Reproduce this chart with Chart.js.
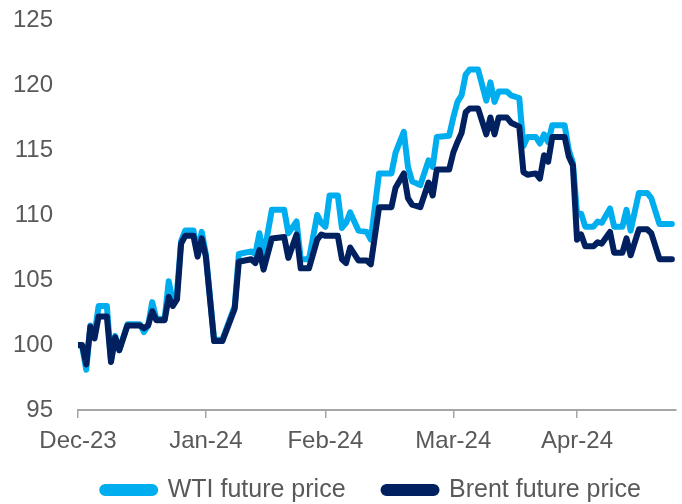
<!DOCTYPE html>
<html>
<head>
<meta charset="utf-8">
<script src="https://cdn.jsdelivr.net/npm/chart.js@4/dist/chart.umd.min.js"></script>
<style>
  html, body { margin: 0; padding: 0; background: #ffffff; }
  #wrap { width: 682px; height: 504px; position: relative; }
</style>
</head>
<body>
<div id="wrap"><canvas id="c" width="682" height="504"></canvas></div>
<script>
// Day offsets from the first tick (Dec-23)
const days = [
  0,1,2,3,4,5,7,8,9,10,
  12,15,16,17,18,19,21,22,23,24,
  25,26,28,29,30,31,33,35,38,39,
  42,43,44,45,47,50,51,53,54,56,
  58,59,60,61,63,64,65,66,68,70,
  71,73,76,77,79,80,81,83,85,86,
  87,90,91,92,93,94,95,97,98,99,
  100,101,102,104,105,107,108,109,111,112,
  113,114,115,118,119,120,121,122,123,125,
  126,127,129,130,132,133,134,136,138,139,
  141,144
];
const wti = [
  100.0,99.9,98.1,101.5,100.8,103.0,103.0,98.8,100.7,99.6,
  101.6,101.6,101.0,101.5,103.3,102.0,102.0,104.9,103.3,104.0,
  108.0,108.8,108.8,107.0,108.7,107.0,100.4,100.4,103.0,107.0,
  107.2,107.0,108.6,106.8,110.4,110.4,108.6,109.5,106.6,106.6,
  110.0,109.4,109.1,111.5,111.5,109.0,109.4,110.2,108.8,108.7,
  108.1,113.2,113.2,114.8,116.4,113.7,112.6,112.3,114.2,113.7,
  116.0,116.1,117.5,118.7,119.2,120.8,121.2,121.2,120.0,118.8,
  120.2,118.7,119.5,119.5,119.2,119.0,115.3,116.0,116.0,115.5,
  116.2,115.6,116.9,116.9,115.0,114.0,110.1,110.1,109.1,109.1,
  109.5,109.4,110.5,109.1,109.1,110.4,108.8,111.7,111.7,111.3,
  109.3,109.3
];
const brent = [
  100.0,100.0,98.5,101.4,100.5,102.2,102.2,98.7,100.6,99.6,
  101.5,101.5,101.3,101.5,102.6,101.9,101.9,103.7,103.0,103.5,
  107.8,108.4,108.4,106.8,108.2,106.8,100.3,100.3,102.8,106.4,
  106.6,106.3,107.3,105.8,108.2,108.3,106.7,108.5,105.9,105.9,
  108.1,108.5,108.4,108.4,108.4,106.6,106.3,107.5,106.5,106.5,
  106.2,110.6,110.6,112.1,113.2,111.3,110.8,110.6,112.5,111.5,
  113.5,113.5,114.8,115.6,116.3,117.9,118.2,118.2,117.2,116.2,
  117.5,116.2,117.5,117.5,117.1,116.8,113.3,113.1,113.2,112.8,
  114.6,114.1,116.0,116.0,114.5,113.8,108.1,108.5,107.6,107.6,
  107.9,107.8,108.7,107.1,107.1,108.2,106.9,108.9,108.9,108.6,
  106.6,106.6
];
const tickDays = [0, 31, 60, 91, 121];
const tickLabels = ["Dec-23", "Jan-24", "Feb-24", "Mar-24", "Apr-24"];
const seriesNames = ["WTI future price", "Brent future price"];

const FONT = "'Liberation Sans', Arial, sans-serif";
const TXT = "#595959";

const toPts = (vals) => days.map((d, i) => ({ x: d, y: vals[i] }));

// nudge the legend block to where the reference places it
const legendShift = {
  id: "legendShift",
  afterLayout(chart) {
    const lg = chart.legend;
    if (lg) {
      lg.left += 33.5; lg.right += 33.5;
      lg.top -= 25.3; lg.bottom = chart.height; lg.height = lg.bottom - lg.top;
    }
  }
};

new Chart(document.getElementById("c"), {
  type: "line",
  data: {
    datasets: [
      { label: seriesNames[0], data: toPts(wti), borderColor: "#00AEEF", backgroundColor: "#00AEEF",
        borderWidth: 6, pointRadius: 0, tension: 0, order: 2, borderJoinStyle: "round", borderCapStyle: "round" },
      { label: seriesNames[1], data: toPts(brent), borderColor: "#002060", backgroundColor: "#002060",
        borderWidth: 6, pointRadius: 0, tension: 0, order: 1, borderJoinStyle: "round", borderCapStyle: "round" }
    ]
  },
  plugins: [legendShift],
  options: {
    responsive: false,
    animation: false,
    events: [],
    layout: { padding: { left: 0, right: 6, top: 20, bottom: 0 } },
    plugins: {
      tooltip: { enabled: false },
      legend: {
        position: "bottom",
        maxHeight: 39.2,
        labels: {
          font: { family: FONT, size: 25 },
          color: TXT,
          boxWidth: 53,
          boxHeight: 6,
          useBorderRadius: true,
          borderRadius: 3,
          padding: 38,
          sort: (a, b) => a.datasetIndex - b.datasetIndex
        }
      }
    },
    scales: {
      x: {
        type: "linear",
        min: 0,
        max: 145,
        afterBuildTicks: (scale) => { scale.ticks = tickDays.map(v => ({ value: v })); },
        ticks: {
          autoSkip: false,
          maxRotation: 0,
          font: { family: FONT, size: 24 },
          color: TXT,
          padding: 9,
          callback: (v) => { const i = tickDays.indexOf(v); return i >= 0 ? tickLabels[i] : ""; }
        },
        grid: { drawOnChartArea: false, drawTicks: true, tickLength: 8, color: "#A6A6A6", lineWidth: 1.5 },
        border: { display: true, color: "#A6A6A6", width: 2 }
      },
      y: {
        min: 95,
        max: 125,
        afterFit: (scale) => { scale.width = 78; scale.paddingTop = 0; scale.paddingBottom = 0; },
        ticks: {
          stepSize: 5,
          font: { family: FONT, size: 24 },
          color: TXT,
          padding: 25
        },
        grid: { display: false, drawTicks: false },
        border: { display: false }
      }
    }
  }
});
</script>
</body>
</html>
